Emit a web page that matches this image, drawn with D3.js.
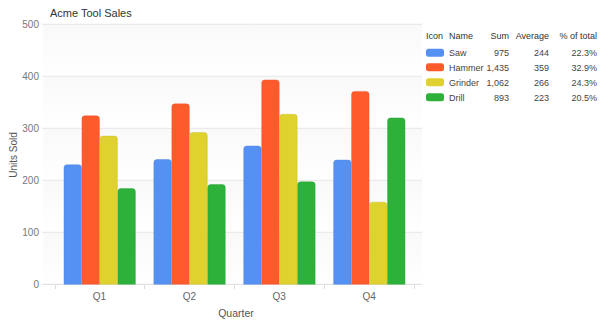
<!DOCTYPE html>
<html><head><meta charset="utf-8">
<script src="https://cdn.jsdelivr.net/npm/d3@7"></script>
<style>
body{margin:0;background:#fff;}
svg{display:block;font-family:"Liberation Sans",Arial,sans-serif;}
</style></head><body>
<svg id="c" width="604" height="326"></svg>
<script>
const quarters = ["Q1","Q2","Q3","Q4"];
const seriesNames = ["Saw","Hammer","Grinder","Drill"];
const saw = [230,240,266,239];
const hammer = [324,347,393,371];
const grinder = [285,292,327,158];
const drill = [184,192,197,320];
const colors = ["#5591f3","#fd5b2b","#dfd22f","#2db13b"];
const yTicks = [0,100,200,300,400,500];
const legendHeader = ["Icon","Name","Sum","Average","% of total"];
const sums = ["975","1,435","1,062","893"];
const averages = ["244","359","266","223"];
const pcts = ["22.3%","32.9%","24.3%","20.5%"];
const title = "Acme Tool Sales";
const yTitle = "Units Sold";
const xTitle = "Quarter";

const series = [saw, hammer, grinder, drill];
const svg = d3.select("#c");
const x0 = d3.scaleBand().domain(quarters).range([54.5,414]).paddingInner(0.2).paddingOuter(0.1);
const x1 = d3.scaleBand().domain(seriesNames).range([0, x0.bandwidth()]);
const y = d3.scaleLinear().domain([0,500]).range([284.3,24.3]);

const defs = svg.append("defs");
const g = defs.append("linearGradient").attr("id","bandg").attr("x1",0).attr("x2",0).attr("y1",0).attr("y2",1);
g.append("stop").attr("offset","0%").attr("stop-color","#f9f9f9");
g.append("stop").attr("offset","100%").attr("stop-color","#ffffff");

// background bands
for (let i=0;i<yTicks.length-1;i++){
  svg.append("rect").attr("x",43).attr("width",379)
    .attr("y",y(yTicks[i+1])).attr("height",y(yTicks[i])-y(yTicks[i+1]))
    .attr("fill","url(#bandg)");
}
// gridlines
svg.append("g").selectAll("line").data(yTicks).join("line")
  .attr("x1",42).attr("x2",422).attr("y1",d=>y(d)).attr("y2",d=>y(d))
  .attr("stroke",d=>d===0?"#dcdcdc":"#e6e6e6").attr("stroke-width",1);
svg.append("g").selectAll("text").data(yTicks).join("text")
  .attr("x",39).attr("y",d=>y(d)+3.5).attr("text-anchor","end")
  .attr("font-size",10).attr("fill","#777").text(d=>d);

// x ticks
const bounds = quarters.map(q=>x0(q)-x0.step()*x0.paddingInner()/2).concat([x0(quarters[3])+x0.bandwidth()+x0.step()*x0.paddingInner()/2]);
svg.append("g").selectAll("line").data(bounds).join("line")
  .attr("x1",d=>Math.round(d)+0.5).attr("x2",d=>Math.round(d)+0.5).attr("y1",285).attr("y2",289)
  .attr("stroke","#dcdcdc");
svg.append("g").selectAll("text").data(quarters).join("text")
  .attr("x",d=>x0(d)+x0.bandwidth()/2).attr("y",300).attr("text-anchor","middle")
  .attr("font-size",10).attr("fill","#666").text(d=>d);

// bars
const r = 3;
function barPath(x,yt,w,yb){
  const rr = Math.min(r,(yb-yt));
  return `M${x},${yb}V${yt+rr}Q${x},${yt} ${x+rr},${yt}H${x+w-rr}Q${x+w},${yt} ${x+w},${yt+rr}V${yb}Z`;
}
const data = [];
quarters.forEach((q,qi)=>seriesNames.forEach((s,si)=>data.push({q,s,si,v:series[si][qi]})));
svg.append("g").selectAll("path").data(data).join("path")
  .attr("d",d=>barPath(x0(d.q)+x1(d.s)+0.5,y(d.v),x1.bandwidth()-0.5,y(0)))
  .attr("fill",d=>colors[d.si])
  .attr("stroke",d=>d3.color(colors[d.si]).darker(0.3)).attr("stroke-opacity",0.5).attr("stroke-width",0.8);

// titles
svg.append("text").attr("x",50).attr("y",17).attr("font-size",11).attr("fill","#333").text(title);
svg.append("text").attr("transform","translate(17,155) rotate(-90)").attr("text-anchor","middle")
  .attr("font-size",10).attr("fill","#555").text(yTitle);
svg.append("text").attr("x",236).attr("y",317).attr("text-anchor","middle")
  .attr("font-size",10.5).attr("fill","#555").text(xTitle);

// legend
const lg = svg.append("g").attr("font-size",9).attr("fill","#333");
const colX = [426,449,509,549,597];
const anchors = ["start","start","end","end","end"];
legendHeader.forEach((h,i)=>lg.append("text").attr("x",colX[i]).attr("y",39).attr("text-anchor",anchors[i]).attr("fill","#333").text(h));
const rowY = [52.7,67.3,82.3,97.3];
seriesNames.forEach((s,i)=>{
  lg.append("rect").attr("x",426).attr("y",rowY[i]-4).attr("width",18).attr("height",8).attr("rx",2.5).attr("fill",colors[i]);
  const vals=[s,sums[i],averages[i],pcts[i]];
  vals.forEach((v,j)=>lg.append("text").attr("x",colX[j+1]).attr("y",rowY[i]+3.5).attr("text-anchor",anchors[j+1]).attr("fill","#444").text(v));
});
</script>
</body></html>
